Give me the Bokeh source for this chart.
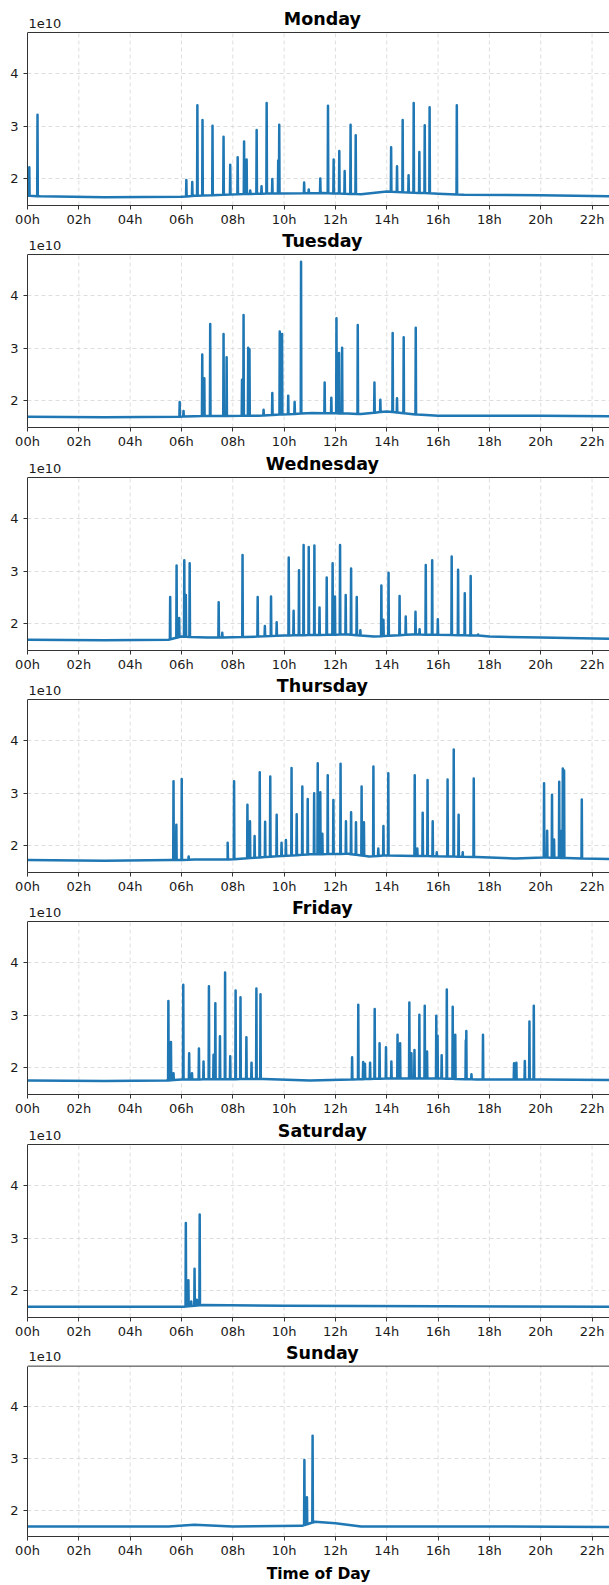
import numpy as np
from bokeh.plotting import figure
from bokeh.layouts import column
from bokeh.models import Range1d, FixedTicker, Label, Span
from bokeh.embed import file_html
from bokeh.resources import INLINE

# ---------------- data (values in units of 1e10) ----------------
DAYS = ["Monday", "Tuesday", "Wednesday", "Thursday", "Friday", "Saturday", "Sunday"]
TICK_HOURS = [0, 2, 4, 6, 8, 10, 12, 14, 16, 18, 20, 22]
TICK_LABELS = ["00h", "02h", "04h", "06h", "08h", "10h", "12h", "14h", "16h", "18h", "20h", "22h"]
Y_TICKS = [2, 3, 4]

mon_base_h = [0, 0.5, 3, 6, 6.5, 9, 11.5, 13, 14, 16, 17, 20, 22.7]
mon_base_v = [1.68, 1.67, 1.65, 1.66, 1.68, 1.72, 1.73, 1.71, 1.76, 1.72, 1.70, 1.69, 1.67]
mon_spike_h = [0.07, 0.39, 6.19, 6.42, 6.62, 6.82, 7.21, 7.64, 7.90, 8.19, 8.44, 8.54, 8.68, 8.93,
               9.12, 9.32, 9.54, 9.77, 9.81, 10.78, 10.96, 11.41, 11.71, 11.93, 12.15, 12.36, 12.59,
               12.79, 14.17, 14.40, 14.62, 14.85, 15.05, 15.27, 15.48, 15.67, 16.73]
mon_spike_v = [2.22, 3.22, 1.98, 1.94, 3.40, 3.12, 3.01, 2.80, 2.27, 2.41, 2.71, 2.37, 1.78, 2.93,
               1.86, 3.44, 2.00, 2.35, 3.03, 1.93, 1.80, 2.01, 3.39, 2.37, 2.53, 2.15, 3.03,
               2.83, 2.60, 2.24, 3.12, 2.07, 3.44, 2.51, 3.02, 3.36, 3.40]

tue_base_h = [0, 3, 5.9, 6.5, 9, 11.1, 12.5, 13, 14, 15.2, 16, 20, 22.7]
tue_base_v = [1.70, 1.69, 1.70, 1.71, 1.72, 1.77, 1.76, 1.75, 1.80, 1.74, 1.72, 1.72, 1.71]
tue_spike_h = [5.93, 6.08, 6.81, 6.89, 7.12, 7.64, 7.76, 8.36, 8.42, 8.60, 8.65, 9.20, 9.54, 9.83,
               9.92, 10.16, 10.41, 10.66, 11.58, 11.84, 12.04, 12.14, 12.26, 12.87, 13.52, 13.75,
               14.23, 14.40, 14.66, 15.13]
tue_spike_v = [1.98, 1.81, 2.88, 2.43, 3.46, 3.27, 2.83, 2.40, 3.63, 3.01, 2.98, 1.83, 2.15, 3.32,
               3.27, 2.10, 1.98, 4.64, 2.35, 2.06, 3.57, 2.91, 3.01, 3.44, 2.35, 2.02,
               3.29, 2.05, 3.21, 3.39]

wed_base_h = [0, 3, 5.5, 6, 7, 8.5, 10, 12.5, 13.5, 15, 17.5, 18, 20, 22.7]
wed_base_v = [1.70, 1.69, 1.70, 1.76, 1.74, 1.75, 1.78, 1.80, 1.76, 1.80, 1.78, 1.76, 1.74, 1.72]
wed_spike_h = [5.56, 5.81, 5.91, 6.11, 6.17, 6.32, 7.45, 7.59, 8.38, 8.97, 9.25, 9.49, 9.71, 10.18,
               10.37, 10.58, 10.76, 10.96, 11.18, 11.38, 11.66, 11.89, 11.98, 12.18, 12.40, 12.61,
               12.83, 12.97, 13.79, 13.87, 14.07, 14.50, 14.74, 15.12, 15.28, 15.52, 15.77, 15.99,
               16.53, 16.78, 17.04, 17.27, 17.56]
wed_spike_v = [2.51, 3.11, 2.11, 3.21, 2.55, 3.15, 2.41, 1.83, 3.31, 2.51, 1.96, 2.52, 2.03, 3.26,
               2.25, 3.02, 3.50, 3.46, 3.49, 2.31, 2.88, 3.15, 2.52, 3.50, 2.55, 3.05,
               2.51, 1.88, 2.73, 2.08, 2.97, 2.53, 2.14, 2.23, 1.90, 3.12, 3.21, 2.09,
               3.28, 3.03, 2.58, 2.91, 1.80]

thu_base_h = [0, 3, 5.6, 6.5, 7.8, 9, 11, 12.5, 13.3, 14, 17.5, 19, 20.1, 21, 22.7]
thu_base_v = [1.73, 1.72, 1.73, 1.74, 1.74, 1.78, 1.84, 1.85, 1.80, 1.82, 1.79, 1.76, 1.78, 1.77, 1.75]
thu_spike_h = [5.69, 5.80, 6.01, 6.28, 7.80, 8.05, 8.57, 8.67, 8.85, 9.05, 9.26, 9.46, 9.71, 9.90,
               10.07, 10.29, 10.49, 10.71, 10.92, 11.17, 11.31, 11.41, 11.49, 11.70, 11.92, 12.20,
               12.41, 12.61, 12.80, 13.02, 13.11, 13.48, 13.67, 13.87, 14.06, 15.09, 15.19, 15.40,
               15.59, 15.79, 15.95, 16.37, 16.61, 16.80, 16.96, 17.39, 20.13, 20.25, 20.44, 20.52,
               20.72, 20.77, 20.86, 20.91, 21.60]
thu_spike_v = [3.23, 2.40, 3.27, 1.80, 2.06, 3.23, 2.78, 2.47, 2.19, 3.40, 2.46, 3.32, 2.59, 2.06,
               2.11, 3.48, 2.60, 3.13, 2.89, 3.00, 3.57, 3.02, 2.23, 3.34, 2.87, 3.56,
               2.47, 2.64, 2.45, 3.13, 2.45, 3.51, 1.95, 2.38, 3.38, 3.34, 1.95, 2.63,
               3.25, 2.47, 1.88, 3.26, 3.83, 2.59, 1.88, 3.28, 3.19, 2.29, 2.97, 2.12,
               3.22, 2.29, 3.47, 3.43, 2.88]

fri_base_h = [0, 3, 5.4, 6, 9.2, 11, 12.6, 14, 16, 17.5, 19, 20, 22.7]
fri_base_v = [1.76, 1.75, 1.76, 1.78, 1.79, 1.76, 1.78, 1.80, 1.80, 1.78, 1.78, 1.78, 1.77]
fri_spike_h = [5.49, 5.59, 5.69, 6.07, 6.30, 6.41, 6.68, 6.86, 7.07, 7.25, 7.32, 7.50, 7.70, 7.90,
               8.11, 8.30, 8.53, 8.73, 8.92, 9.08, 12.65, 12.89, 13.08, 13.15, 13.35, 13.53, 13.72,
               13.97, 14.18, 14.42, 14.52, 14.88, 14.96, 15.08, 15.27, 15.48, 15.57, 15.93, 15.98,
               16.14, 16.34, 16.57, 16.67, 17.08, 17.10, 17.30, 17.75, 18.96, 19.05, 19.38, 19.56,
               19.73]
fri_spike_v = [3.27, 2.49, 1.90, 3.58, 2.28, 1.90, 2.37, 2.12, 3.55, 2.25, 3.23, 2.60, 3.81, 2.22,
               3.47, 3.34, 2.58, 2.10, 3.51, 3.40, 2.20, 3.20, 2.11, 2.08, 2.10, 3.12, 2.47,
               2.39, 2.12, 2.63, 2.47, 3.24, 2.28, 2.34, 3.01, 3.18, 2.31, 2.99, 2.61,
               2.24, 3.49, 3.16, 2.63, 2.52, 2.70, 1.88, 2.63, 2.09, 2.10, 2.13, 2.88,
               3.18]

sat_base_h = [0, 6.1, 6.8, 10, 16, 22.7]
sat_base_v = [1.70, 1.70, 1.73, 1.72, 1.71, 1.70]
sat_spike_h = [6.17, 6.27, 6.38, 6.51, 6.60, 6.71]
sat_spike_v = [3.29, 2.20, 1.80, 2.42, 1.83, 3.45]

sun_base_h = [0, 5.5, 6.5, 8, 10.7, 11.2, 12, 13, 17, 22.7]
sun_base_v = [1.69, 1.69, 1.72, 1.69, 1.70, 1.78, 1.75, 1.69, 1.69, 1.68]
sun_spike_h = [10.79, 10.89, 11.11]
sun_spike_v = [2.97, 2.25, 3.44]

SERIES = [
    (mon_base_h, mon_base_v, mon_spike_h, mon_spike_v),
    (tue_base_h, tue_base_v, tue_spike_h, tue_spike_v),
    (wed_base_h, wed_base_v, wed_spike_h, wed_spike_v),
    (thu_base_h, thu_base_v, thu_spike_h, thu_spike_v),
    (fri_base_h, fri_base_v, fri_spike_h, fri_spike_v),
    (sat_base_h, sat_base_v, sat_spike_h, sat_spike_v),
    (sun_base_h, sun_base_v, sun_spike_h, sun_spike_v),
]


def build(base_h, base_v, sp_h, sp_v):
    pts = list(zip(base_h, base_v))
    for h, v in zip(sp_h, sp_v):
        b = float(np.interp(h, base_h, base_v))
        pts += [(h - 0.012, b), (h, v), (h + 0.012, b)]
    pts.sort()
    xs = [q[0] for q in pts]
    ys = [q[1] for q in pts]
    return xs, ys


# ---------------- layout ----------------
X0, X1 = 0, 22.68
Y0, Y1 = 1.495, 4.78          # visible axes range
FRAME_H = 173                 # pixel height of the axes box
heights = [230, 223, 222, 222, 223, 222, 243]
tops = [32, 24, 24, 24, 24, 24, 24]   # room for titles above each axes box
FONT = "DejaVu Sans"
TXT = "#1a1a1a"
SPINE = "#333333"
GRID = "#d6d6d6"
UNIT = (Y1 - Y0) / FRAME_H    # data units per pixel

figs = []
for i, day in enumerate(DAYS):
    h = heights[i]
    ytop = Y1 + tops[i] * UNIT    # extend the frame upward so the title texts live inside it
    p = figure(width=609, height=h, x_range=Range1d(X0, X1), y_range=Range1d(Y0, ytop),
               output_backend="svg", toolbar_location=None,
               min_border_left=27, min_border_right=0,
               min_border_top=0, min_border_bottom=h - tops[i] - FRAME_H)
    p.outline_line_color = None
    p.background_fill_color = "white"
    p.border_fill_color = "white"

    # vertical dashed grid, limited to the axes box
    n = len(TICK_HOURS)
    p.segment(x0=TICK_HOURS, y0=[Y0] * n, x1=TICK_HOURS, y1=[Y1] * n,
              line_color=GRID, line_dash="4 3", line_width=0.8)
    p.xgrid.visible = False
    p.ygrid.ticker = FixedTicker(ticks=Y_TICKS)
    p.ygrid.grid_line_color = GRID
    p.ygrid.grid_line_dash = "4 3"
    p.ygrid.grid_line_width = 0.8

    xs, ys = build(*SERIES[i])
    p.line(xs, ys, line_color="#1f77b4", line_width=2.5, line_join="round")

    # top spine
    p.add_layout(Span(location=Y1, dimension="width", line_color=SPINE, line_width=1))

    p.xaxis.ticker = FixedTicker(ticks=TICK_HOURS)
    p.xaxis.major_label_overrides = {t: lab for t, lab in zip(TICK_HOURS, TICK_LABELS)}
    p.yaxis.ticker = FixedTicker(ticks=Y_TICKS)
    p.yaxis.bounds = (Y0, Y1)
    for ax in (p.xaxis, p.yaxis):
        ax.minor_tick_line_color = None
        ax.major_tick_in = 0
        ax.major_tick_out = 4
        ax.major_tick_line_color = SPINE
        ax.axis_line_color = SPINE
        ax.axis_line_width = 1
        ax.major_label_text_font = FONT
        ax.major_label_text_font_size = "13px"
        ax.major_label_text_color = TXT
    p.xaxis.major_label_standoff = 2
    p.yaxis.major_label_standoff = 5

    p.add_layout(Label(x=0, y=Y1, x_offset=1, y_offset=9.5, text="1e10",
                       text_font=FONT, text_font_size="13px", text_color=TXT,
                       text_align="left", text_baseline="alphabetic"))
    p.add_layout(Label(x=11.49, y=Y1, y_offset=13.5, text=day,
                       text_font=FONT, text_font_size="17.5px", text_font_style="bold",
                       text_color="black", text_align="center", text_baseline="alphabetic"))
    if i == len(DAYS) - 1:
        p.xaxis.axis_label = "Time of Day"
        p.xaxis.axis_label_text_font = FONT
        p.xaxis.axis_label_text_font_size = "15.5px"
        p.xaxis.axis_label_text_font_style = "bold"
        p.xaxis.axis_label_text_color = "black"
        p.xaxis.axis_label_standoff = 4
    figs.append(p)

layout = column(*figs)
open("out.html", "w").write(file_html(layout, INLINE))
